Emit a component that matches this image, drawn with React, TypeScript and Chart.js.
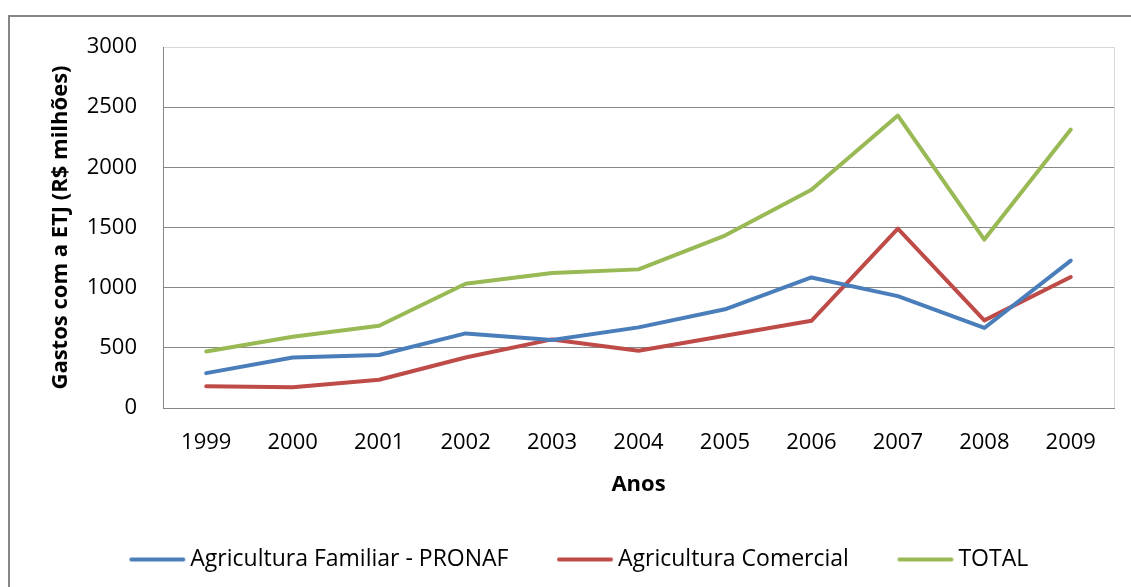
import React, { useEffect, useRef } from "react";
import { Chart, registerables } from "chart.js";

Chart.register(...registerables);

const years = ["1999", "2000", "2001", "2002", "2003", "2004", "2005", "2006", "2007", "2008", "2009"];
const pronaf = [290, 420, 440, 620, 565, 670, 820, 1085, 930, 665, 1225];
const comercial = [180, 172, 235, 420, 570, 475, 600, 725, 1490, 728, 1088];
const total = [470, 592, 683, 1032, 1122, 1152, 1433, 1814, 2430, 1400, 2314];
const seriesNames = ["Agricultura Familiar - PRONAF", "Agricultura Comercial", "TOTAL"];
const seriesColors = ["#4A7EBB", "#BE4B48", "#98B954"];

const FONT = "'Open Sans', 'Noto Sans', sans-serif";
const FS = 22;

function lineImage(color: string): HTMLCanvasElement {
  const c = document.createElement("canvas");
  c.width = 58;
  c.height = 6;
  const ctx = c.getContext("2d")!;
  ctx.strokeStyle = color;
  ctx.lineWidth = 4;
  ctx.lineCap = "round";
  ctx.beginPath();
  ctx.moveTo(3, 3);
  ctx.lineTo(55, 3);
  ctx.stroke();
  return c;
}

const framePlugin = {
  id: "frame",
  beforeDraw(chart: any) {
    const ctx = chart.ctx;
    ctx.save();
    ctx.fillStyle = "#ffffff";
    ctx.fillRect(0, 0, chart.width, chart.height);
    ctx.restore();
  },
  afterDraw(chart: any) {
    const ctx = chart.ctx;
    const a = chart.chartArea;
    ctx.save();
    ctx.strokeStyle = "#d9d9d9";
    ctx.lineWidth = 1;
    ctx.beginPath();
    ctx.moveTo(Math.round(a.right) + 0.5, a.top);
    ctx.lineTo(Math.round(a.right) + 0.5, a.bottom);
    ctx.stroke();
    ctx.strokeStyle = "#868686";
    ctx.lineWidth = 2;
    ctx.strokeRect(9, 16, 1140, 600);
    ctx.restore();
  },
};

export default function App() {
  const ref = useRef<HTMLCanvasElement | null>(null);

  useEffect(() => {
    const canvas = ref.current!;
    const seriesData = [pronaf, comercial, total];
    const chart = new Chart(canvas, {
      type: "line",
      data: {
        labels: years,
        datasets: seriesNames.map((name, i) => ({
          label: name,
          data: seriesData[i],
          borderColor: seriesColors[i],
          backgroundColor: seriesColors[i],
          borderWidth: 4,
          borderCapStyle: "round",
          borderJoinStyle: "round",
          pointRadius: 0,
          pointHoverRadius: 0,
          pointStyle: lineImage(seriesColors[i]),
          tension: 0,
          fill: false,
        })),
      },
      options: {
        animation: false,
        responsive: false,
        maintainAspectRatio: false,
        devicePixelRatio: 1,
        layout: { padding: { top: 47, right: 17, left: 50, bottom: 6 } },
        plugins: {
          tooltip: { enabled: false },
          title: { display: false },
          legend: {
            display: true,
            position: "bottom",
            labels: {
              usePointStyle: true,
              pointStyleWidth: 43,
              padding: 55,
              color: "#000000",
              font: { family: FONT, size: 23 },
            },
          },
        },
        scales: {
          x: {
            offset: true,
            afterFit: (s: any) => {
              s.height = 85;
            },
            grid: { display: false, drawTicks: false },
            border: { display: true, color: "#868686", width: 1 },
            ticks: { color: "#000000", padding: 22, font: { family: FONT, size: FS }, maxRotation: 0 },
            title: {
              display: true,
              text: "Anos",
              color: "#000000",
              padding: { top: 0, bottom: -5 },
              font: { family: FONT, size: FS, weight: "bold" },
            },
          },
          y: {
            min: 0,
            max: 3000,
            afterFit: (s: any) => {
              s.width = 113;
            },
            grid: {
              drawTicks: false,
              color: (c: any) => (c.tick && c.tick.value === 3000 ? "#d9d9d9" : "#878787"),
              lineWidth: 1,
            },
            border: { display: true, color: "#868686", width: 1 },
            ticks: {
              stepSize: 500,
              color: "#000000",
              padding: 26,
              font: { family: FONT, size: FS },
              callback: (v: any) => String(v),
            },
            title: {
              display: true,
              text: "Gastos com a ETJ (R$ milhões)",
              color: "#000000",
              padding: { top: -2, bottom: 0 },
              font: { family: FONT, size: FS, weight: "bold" },
            },
          },
        },
      },
      plugins: [framePlugin],
    } as any);
    return () => chart.destroy();
  }, []);

  return (
    <div style={{ position: "absolute", left: 0, top: 0, width: 1131, height: 587 }}>
      <canvas ref={ref} width={1131} height={587} style={{ display: "block" }} />
    </div>
  );
}
